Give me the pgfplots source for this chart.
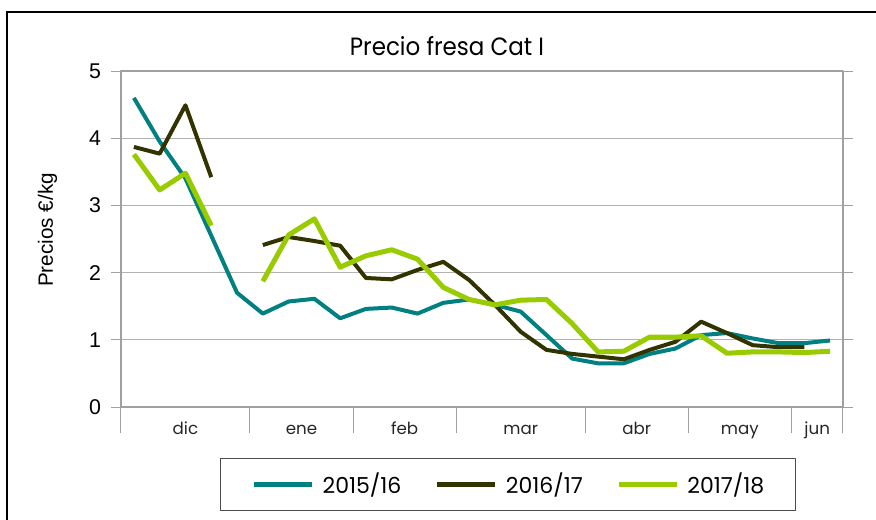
\documentclass[border=0pt]{standalone}
\usepackage{fontspec}
\setmainfont{Liberation Sans}
\newfontfamily\gothic{Poppins}
\newfontfamily\gothictitle[FakeStretch=0.92]{Poppins}
\usepackage{pgfplots}
\pgfplotsset{compat=1.18}
\definecolor{cteal}{RGB}{0,128,128}
\definecolor{cdark}{RGB}{51,51,0}
\definecolor{cgreen}{RGB}{153,204,0}
\definecolor{cgrid}{RGB}{178,178,178}
\definecolor{caxis}{RGB}{160,160,160}
\begin{document}
\begin{tikzpicture}
\begin{axis}[
  at={(0pt,0pt)}, anchor=south west,
  scale only axis, width=541.5pt, height=252pt,
  xmin=-0.5, xmax=27.5, ymin=0, ymax=5,
  axis x line*=bottom, axis y line=none,
  xtick={-0.5,4.5,8.5,12.5,17.5,21.5,25.5,27.5},
  xticklabels={,,,,,,,},
  tick align=outside, major tick length=19.5pt,
  xtick style={draw=caxis, line width=0.75pt},
  axis line style={draw=caxis, line width=1.5pt},
]
\addplot[draw=none] coordinates {(0,0)};
\end{axis}
\begin{axis}[
  at={(0pt,0pt)}, anchor=south west,
  scale only axis, width=541.5pt, height=252pt,
  xmin=-0.5, xmax=27.5, ymin=0, ymax=5,
  xtick={2,6.5,10.5,15,19.5,23.5,26.5},
  xticklabels={dic,ene,feb,mar,abr,may,jun},
  xticklabel style={anchor=base, yshift=-13pt, font=\gothic\fontsize{12.5}{15}\selectfont, text=black!85},
  xtick style={draw=none},
  ytick={0,1,2,3,4,5},
  tick align=outside, major tick length=7.5pt,
  ytick style={draw=caxis, line width=0.75pt},
  ymajorgrids, grid style={draw=cgrid, line width=0.9pt},
  axis line style={draw=caxis, line width=1.5pt},
  /pgf/number format/assume math mode=true,
  yticklabel style={font=\fontsize{16}{19}\selectfont, xshift=-4pt},
  ylabel={Precios €/kg},
  ylabel style={at={(axis description cs:-0.0942,0.527)}, anchor=base, font=\fontsize{15.5}{18}\selectfont},
  title={Precio fresa Cat I},
  title style={at={(axis description cs:0.4515,1.0217)}, anchor=base, font=\gothictitle\fontsize{18.75}{22}\selectfont},
  unbounded coords=jump,
  legend columns=3,
  legend style={at={(0.536,-0.2307)}, anchor=center, draw=black!70, line width=0.75pt,
    inner xsep=23.25pt, inner ysep=11pt,
    nodes={inner sep=0pt, font=\gothic\fontsize{16.5}{19}\selectfont},
    /tikz/every odd column/.style={column sep=6pt},
    /tikz/every even column/.style={column sep=25.1pt}},
  legend image code/.code={\draw[#1, line width=3.75pt] (0pt,0pt) -- (43.5pt,0pt);},
  line join=round,
]
\addplot[cteal, line width=3pt] coordinates {
(0,4.6) (1,3.95) (2,3.4) (3,2.55) (4,1.7) (5,1.39) (6,1.57) (7,1.61) (8,1.32) (9,1.46)
(10,1.48) (11,1.39) (12,1.55) (13,1.60) (14,1.52) (15,1.42) (16,1.07) (17,0.72) (18,0.65) (19,0.65)
(20,0.79) (21,0.87) (22,1.07) (23,1.10) (24,1.02) (25,0.95) (26,0.95) (27,0.99)};
\addlegendentry{2015/16}
\addplot[cdark, line width=3pt] coordinates {
(0,3.87) (1,3.77) (2,4.49) (3,3.42) (4,nan) (5,2.41) (6,2.53) (7,2.47) (8,2.40) (9,1.92)
(10,1.90) (11,2.04) (12,2.16) (13,1.89) (14,1.52) (15,1.12) (16,0.85) (17,0.79) (18,0.75) (19,0.71)
(20,0.85) (21,0.97) (22,1.27) (23,1.10) (24,0.92) (25,0.89) (26,0.89)};
\addlegendentry{2016/17}
\addplot[cgreen, line width=3.75pt] coordinates {
(0,3.76) (1,3.23) (2,3.48) (3,2.70) (4,nan) (5,1.87) (6,2.56) (7,2.80) (8,2.08) (9,2.25)
(10,2.34) (11,2.20) (12,1.78) (13,1.60) (14,1.52) (15,1.59) (16,1.60) (17,1.24) (18,0.82) (19,0.83)
(20,1.04) (21,1.04) (22,1.06) (23,0.80) (24,0.82) (25,0.82) (26,0.81) (27,0.83)};
\addlegendentry{2017/18}
\end{axis}
\draw[black, line width=1.2pt] (-85.5pt,-200pt) rectangle (700pt,296.25pt);
\pgfresetboundingbox
\useasboundingbox (-90.75pt,-84pt) rectangle (566.25pt,305.25pt);
\end{tikzpicture}
\end{document}
